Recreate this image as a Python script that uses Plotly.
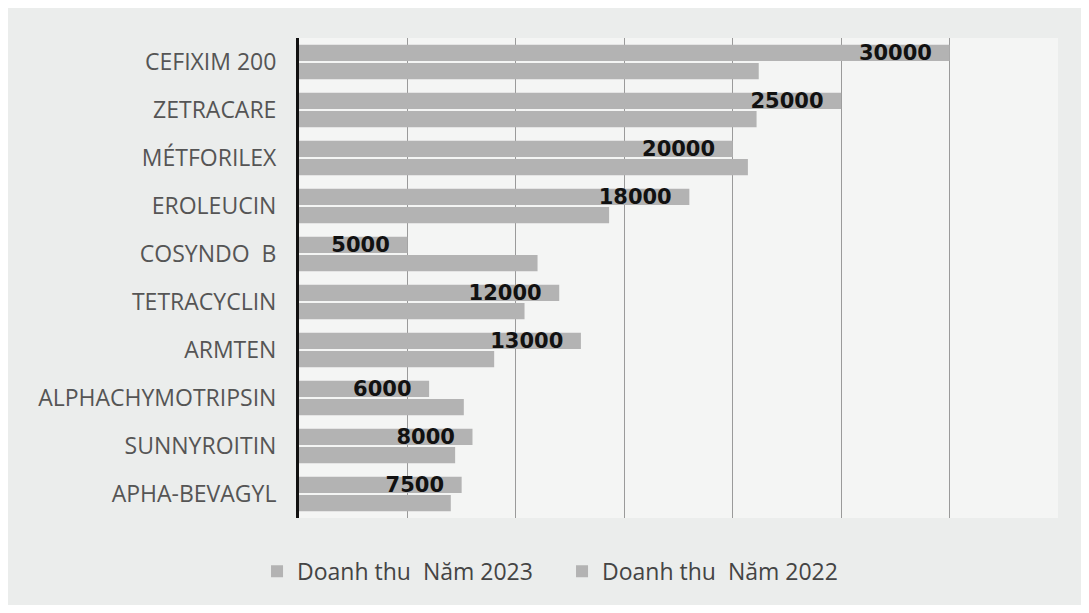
import plotly.graph_objects as go

categories = ["CEFIXIM 200", "ZETRACARE", "MÉTFORILEX", "EROLEUCIN", "COSYNDO  B",
              "TETRACYCLIN", "ARMTEN", "ALPHACHYMOTRIPSIN", "SUNNYROITIN", "APHA-BEVAGYL"]
rev_2023 = [30000, 25000, 20000, 18000, 5000, 12000, 13000, 6000, 8000, 7500]
rev_2022 = [21200, 21100, 20700, 14300, 11000, 10400, 9000, 7600, 7200, 7000]
series_names = ["Doanh thu  Năm 2023", "Doanh thu  Năm 2022"]

bar_color = "#b3b3b3"

fig = go.Figure()
fig.add_trace(go.Bar(
    y=categories, x=rev_2023, orientation="h", name=series_names[0],
    marker=dict(color=bar_color, line=dict(width=0)),
    text=[f"{v}\u00a0\u00a0" for v in rev_2023], textposition="inside", insidetextanchor="end",
    constraintext="none",
    textfont=dict(family="DejaVu Sans", size=21, color="#111111", weight="bold"),
    cliponaxis=False,
))
fig.add_trace(go.Bar(
    y=categories, x=rev_2022, orientation="h", name=series_names[1],
    marker=dict(color=bar_color, line=dict(width=0)),
))

fig.update_layout(
    width=1073, height=597,
    barmode="group", bargap=0.24, bargroupgap=0.1,
    paper_bgcolor="#ebedec", plot_bgcolor="#f4f5f4",
    margin=dict(l=291, r=23, t=30, b=85),
    font=dict(family="Open Sans", color="#555555"),
    showlegend=True,
    legend=dict(orientation="h", x=-0.0553, xanchor="left", y=-0.111, yanchor="middle",
                font=dict(size=23, color="#444444"), entrywidth=260, entrywidthmode="pixels",
                bgcolor="rgba(0,0,0,0)", traceorder="normal"),
)
fig.update_xaxes(range=[0, 35000], dtick=5000, showticklabels=False,
                 showgrid=True, gridcolor="#9a9a9a", gridwidth=1, zeroline=False,
                 showline=False)
fig.update_yaxes(autorange="reversed", showline=True, linecolor="#111111", linewidth=3,
                 ticks="", tickfont=dict(size=23, color="#555555"),
                 ticklabelstandoff=15, showgrid=False)

fig.write_html("out.html")
